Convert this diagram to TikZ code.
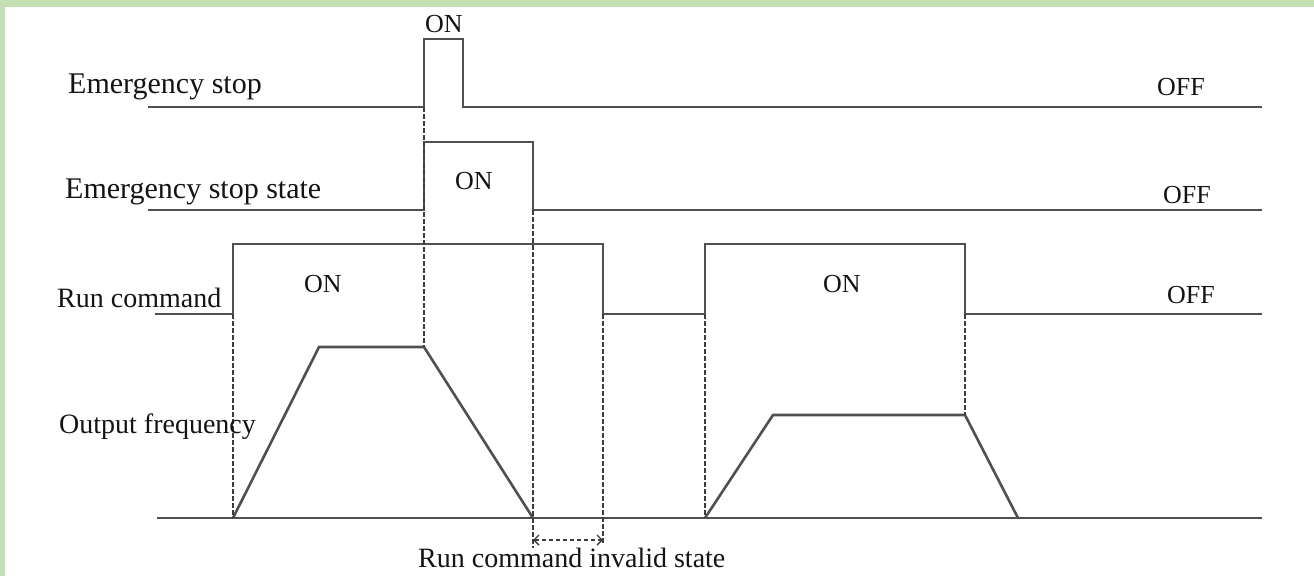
\documentclass[tikz,border=0pt]{standalone}
\usepackage{fontspec}
\setmainfont{Liberation Serif}
\usepackage{tikz}
\usetikzlibrary{arrows.meta,positioning}
\definecolor{framegreen}{HTML}{C5E0B4}
\definecolor{sigline}{HTML}{505050}
\definecolor{labeltext}{HTML}{141414}

\begin{document}
\begin{tikzpicture}[
  x=1pt, y=-1pt,
  >={Straight Barb[length=5pt,width=10pt,line width=1.4pt]},
  signal/.style={
    draw=sigline,
    line width=2.6pt,
    line join=miter
  },
  guide/.style={
    draw=sigline!75!black,
    line width=2pt,
    dash pattern=on 4.5pt off 2.5pt
  },
  rowlabel/.style={
    font=\fontsize{28}{32}\selectfont,
    text=labeltext,
    anchor=base west,
    inner sep=0pt
  },
  toplabel/.style={
    rowlabel,
    font=\fontsize{30}{34}\selectfont
  },
  statelabel/.style={
    font=\fontsize{26}{30}\selectfont,
    text=labeltext,
    anchor=base west,
    inner sep=0pt
  }
]

  % --- frame ---
  \fill[framegreen] (0,0) rectangle (1314,576);
  \fill[white] (5,7) rectangle (1314,576);
  \useasboundingbox (0,0) rectangle (1314,576);

  % --- time instants ---
  \coordinate (tRun)     at (233,0);
  \coordinate (tStop)    at (424,0);
  \coordinate (tPulse)   at (463,0);
  \coordinate (tClear)   at (533,0);
  \coordinate (tRunOff)  at (603,0);
  \coordinate (tRun2)    at (705,0);
  \coordinate (tRun2Off) at (965,0);

  % --- signal levels ---
  \coordinate (esLow)  at (0,107);
  \coordinate (esHigh) at (0,39);
  \coordinate (ssLow)  at (0,210);
  \coordinate (ssHigh) at (0,142);
  \coordinate (rcLow)  at (0,314);
  \coordinate (rcHigh) at (0,244);
  \coordinate (ofLow)  at (0,518);
  \coordinate (ofHigh) at (0,347);
  \coordinate (ofMid)  at (0,415);

  % --- Emergency stop ---
  \draw[signal] (148,107) -- (tStop |- esLow) -- (tStop |- esHigh)
    -- (tPulse |- esHigh) -- (tPulse |- esLow) -- (1262,107);

  % --- Emergency stop state ---
  \draw[signal] (148,210) -- (tStop |- ssLow) -- (tStop |- ssHigh)
    -- (tClear |- ssHigh) -- (tClear |- ssLow) -- (1262,210);

  % --- Run command ---
  \draw[signal] (155,314) -- (tRun |- rcLow) -- (tRun |- rcHigh)
    -- (tRunOff |- rcHigh) -- (tRunOff |- rcLow) -- (tRun2 |- rcLow)
    -- (tRun2 |- rcHigh) -- (tRun2Off |- rcHigh) -- (tRun2Off |- rcLow) -- (1262,314);

  % --- Output frequency ---
  \draw[signal] (157,518) -- (1262,518);
  \draw[signal] (tRun |- ofLow) -- (319,347) -- (tStop |- ofHigh) -- (tClear |- ofLow);
  \draw[signal] (tRun2 |- ofLow) -- (773,415) -- (tRun2Off |- ofMid) -- (1018,518);

  % --- dashed guides ---
  \coordinate (clearEnd) at (533,548);
  \coordinate (offEnd)   at (603,543);
  \coordinate (gapL)     at (533,540);
  \coordinate (gapR)     at (603,540);
  \draw[guide] (tStop |- esLow) -- (tStop |- ofHigh);
  \draw[guide] (tRun |- rcLow) -- (tRun |- ofLow);
  \draw[guide] (tClear |- ssLow) -- (clearEnd);
  \draw[guide] (tRunOff |- rcLow) -- (offEnd);
  \draw[guide] (tRun2 |- rcLow) -- (tRun2 |- ofLow);
  \draw[guide] (tRun2Off |- rcLow) -- (tRun2Off |- ofMid);
  \draw[guide, <->] (gapL) -- (gapR);

  % --- labels ---
  \node[toplabel] (lblEs) at (68,93) {Emergency stop};
  \node[toplabel] (lblSs) at (65,198) {Emergency stop state};
  \node[rowlabel] (lblRc) at (57,307) {Run command};
  \node[rowlabel] (lblOf) at (59,433) {Output frequency};
  \node[rowlabel] (lblInvalid) at (418,567) {Run command invalid state};

  \node[statelabel] (onEs)  at (425,32)  {ON};
  \node[statelabel] (onSs)  at (455,189) {ON};
  \node[statelabel] (onRc1) at (304,292) {ON};
  \node[statelabel] (onRc2) at (823,292) {ON};
  \node[statelabel] (offEs) at (1157,95)  {OFF};
  \node[statelabel] (offSs) at (1163,203) {OFF};
  \node[statelabel] (offRc) at (1167,303) {OFF};

\end{tikzpicture}
\end{document}
